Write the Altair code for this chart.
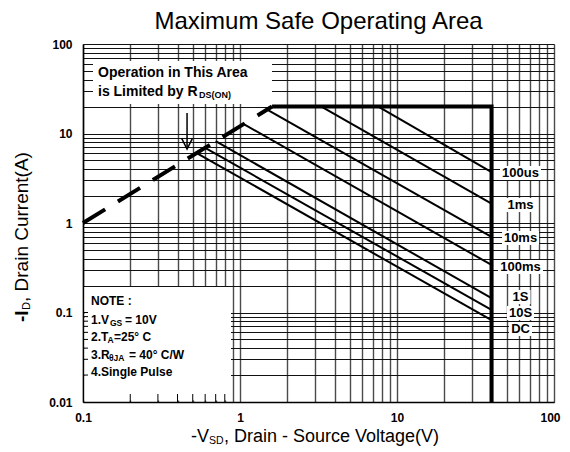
import altair as alt
import pandas as pd

FONT = "Liberation Sans"

# ---------------- data ----------------
v_ticks = [0.1, 0.2, 0.3, 0.4, 0.5, 0.6, 0.7, 0.8, 0.9,
           1, 2, 3, 4, 5, 6, 7, 8, 9,
           10, 20, 30, 40, 50, 60, 70, 80, 90, 100]
i_ticks = [0.01, 0.02, 0.03, 0.04, 0.05, 0.06, 0.07, 0.08, 0.09,
           0.1, 0.2, 0.3, 0.4, 0.5, 0.6, 0.7, 0.8, 0.9,
           1, 2, 3, 4, 5, 6, 7, 8, 9,
           10, 20, 30, 40, 50, 60, 70, 80, 90, 100]
v_labels = ["0.1", "1", "10", "100"]
i_labels = ["0.01", "0.1", "1", "10", "100"]

pulse_names = ["100us", "1ms", "10ms", "100ms", "1S", "10S", "DC"]
pulse_start_v = [7.6, 3.3, 1.48, 1.05, 0.70, 0.60, 0.53]
pulse_start_i = [20, 20, 18.6, 12.8, 8.2, 6.9, 6.05]
pulse_end_v = [40, 40, 40, 40, 40, 40, 40]
pulse_end_i = [3.7, 1.65, 0.70, 0.34, 0.145, 0.107, 0.082]
label_i = [3.62, 1.59, 0.68, 0.322, 0.149, 0.0988, 0.0654]

limit_v = [1.6, 40, 40]
limit_i = [20, 20, 0.01]

rds_v = [0.1, 1.6]
rds_i = [1.0, 20]

arrow_v = [0.46]
arrow_top_i = [16.9]
arrow_tip_i = [6.7]

note_main = ["NOTE :", "1.V", "2.T", "3.R", "4.Single Pulse"]
note_sub = ["", "GS", "A", "\u03b8JA", ""]
note_rest = ["", "= 10V", "=25\u00b0 C", "= 40\u00b0 C/W", ""]
note_i = [0.134, 0.0824, 0.0526, 0.0335, 0.0214]

# ---------------- layout ----------------
W, H = 471, 358
PXD_X = W / 3.0   # pixels per decade (x)
PXD_Y = H / 4.0   # pixels per decade (y)


def shift_v(v, px):
    return v * 10 ** (px / PXD_X)


def shift_i(i, px):  # px measured downward
    return i * 10 ** (-px / PXD_Y)


xs = alt.Scale(type="log", domain=[0.1, 100], nice=False)
ys = alt.Scale(type="log", domain=[0.01, 100], nice=False)


def lab_expr(labels):
    arr = "[" + ",".join(f"'{l}'" for l in labels) + "]"
    return f"indexof({arr}, format(datum.value, '~g')) >= 0 ? format(datum.value, '~g') : ''"


common_axis = dict(title=None, grid=True, ticks=False, domain=True,
                   domainColor="black", domainWidth=1.5,
                   labelFont=FONT, labelFontSize=12, labelFontWeight="bold",
                   labelColor="black", labelOverlap=False, labelFlush=False, zindex=0)
x_axis = alt.Axis(values=v_ticks, labelExpr=lab_expr(v_labels), gridColor="#4a4a4a",
                  gridWidth=1.4, labelPadding=10,
                  labelOffset={"condition": {"test": "datum.value == 100", "value": -4}, "value": 0},
                  **common_axis)
y_axis = alt.Axis(values=i_ticks, labelExpr=lab_expr(i_labels), gridColor="#111111",
                  gridWidth=1.1, labelPadding=11, **common_axis)


def X(f):
    return alt.X(f, type="quantitative", scale=xs, axis=x_axis)


def Y(f):
    return alt.Y(f, type="quantitative", scale=ys, axis=y_axis)


# pulse lines
rows = []
for n, sv, si, ev, ei in zip(pulse_names, pulse_start_v, pulse_start_i, pulse_end_v, pulse_end_i):
    rows.append({"name": n, "v": sv, "i": si, "o": 0})
    rows.append({"name": n, "v": ev, "i": ei, "o": 1})
pulse_df = pd.DataFrame(rows)

limit_df = pd.DataFrame({"v": limit_v, "i": limit_i, "o": list(range(len(limit_v)))})
rds_df = pd.DataFrame({"v": rds_v, "i": rds_i, "o": [0, 1]})

# white boxes
boxes = pd.DataFrame({
    "v1": [shift_v(0.1, 1.5), shift_v(0.1, 10)],
    "v2": [shift_v(0.1, 148), shift_v(0.1, 189)],
    "i1": [shift_i(0.01, -1.5), shift_i(100, 17)],
    "i2": [shift_i(100, 243), shift_i(100, 60)],
})

label_w = [41, 30, 37, 45, 20, 27, 23]
LDX = 29
lab_df = pd.DataFrame({
    "name": pulse_names,
    "v": pulse_end_v,
    "i": label_i,
    "v1": [shift_v(v, LDX - w / 2) for v, w in zip(pulse_end_v, label_w)],
    "v2": [shift_v(v, LDX + w / 2) for v, w in zip(pulse_end_v, label_w)],
    "i1": [shift_i(i, -7) for i in label_i],
    "i2": [shift_i(i, 7) for i in label_i],
})

# inner minor ticks inside the note box
left_ticks = pd.DataFrame({"i": [t for t in i_ticks if t < 0.19 and t > 0.01]})
left_ticks["v1"] = 0.1
left_ticks["v2"] = shift_v(0.1, 5)
bottom_ticks = pd.DataFrame({"v": [t for t in v_ticks if 0.1 < t < 0.85]})
bottom_ticks["i1"] = 0.01
bottom_ticks["i2"] = shift_i(0.01, -8)

arrow_df = pd.DataFrame({"v": arrow_v, "i1": arrow_top_i, "i2": arrow_tip_i})

note_df = pd.DataFrame({"main": note_main, "sub": note_sub, "rest": note_rest,
                        "i": note_i, "v": [shift_v(0.1, 8)] * len(note_main)})
note_sub_dx = [0, 19, 16.5, 18, 0]
note_rest_dx = [0, 34, 23, 38, 0]

box_df = pd.DataFrame({"v": [shift_v(0.1, 15)], "i1": [shift_i(100, 29)], "i2": [shift_i(100, 48)]})

# ---------------- layers ----------------
white_boxes = alt.Chart(boxes).mark_rect(color="white").encode(
    x=X("v1"), x2="v2", y=Y("i1"), y2="i2")

label_boxes = alt.Chart(lab_df).mark_rect(color="white").encode(
    x=X("v1"), x2="v2", y=Y("i1"), y2="i2")

lt = alt.Chart(left_ticks).mark_rule(color="black", strokeWidth=1).encode(
    x=X("v1"), x2="v2", y=Y("i"))
bt = alt.Chart(bottom_ticks).mark_rule(color="black", strokeWidth=1).encode(
    x=X("v"), y=Y("i1"), y2="i2")

pulses = alt.Chart(pulse_df).mark_line(color="black", strokeWidth=2).encode(
    x=X("v"), y=Y("i"), detail="name:N", order="o:Q")

limit = alt.Chart(limit_df).mark_line(color="black", strokeWidth=4, strokeJoin="miter").encode(
    x=X("v"), y=Y("i"), order="o:Q")

rds = alt.Chart(rds_df).mark_line(color="black", strokeWidth=4, strokeDash=[26, 15]).encode(
    x=X("v"), y=Y("i"), order="o:Q")

arrow_shaft = alt.Chart(arrow_df).mark_rule(color="black", strokeWidth=1.5).encode(
    x=X("v"), y=Y("i1"), y2="i2")
arrow_head = alt.Chart(arrow_df).mark_point(
    shape="M -1 -2 L 0 0 L 1 -2", filled=False, size=121, color="black",
    strokeWidth=1.5, opacity=1).encode(x=X("v"), y=Y("i2"))

pulse_text = alt.Chart(lab_df).mark_text(
    align="center", baseline="middle", dx=LDX, font=FONT, fontSize=13,
    fontWeight="bold", color="black").encode(x=X("v"), y=Y("i"), text="name:N")

tb = alt.Chart(box_df)
tb1 = tb.mark_text(text="Operation in This Area", align="left", baseline="middle", font=FONT,
                   fontSize=14, fontWeight="bold", color="black").encode(x=X("v"), y=Y("i1"))
tb2 = tb.mark_text(text="is Limited by R", align="left", baseline="middle", font=FONT,
                   fontSize=14, fontWeight="bold", color="black").encode(x=X("v"), y=Y("i2"))
tb3 = tb.mark_text(text="DS(ON)", align="left", baseline="middle", font=FONT, dx=101, dy=3,
                   fontSize=9, fontWeight="bold", color="black").encode(x=X("v"), y=Y("i2"))

note_layers = []
nb = alt.Chart(note_df)
note_layers.append(nb.mark_text(align="left", baseline="middle", font=FONT, fontSize=12,
                                fontWeight="bold", color="black").encode(
    x=X("v"), y=Y("i"), text="main:N"))
for k in range(len(note_main)):
    if note_sub[k]:
        one = alt.Chart(note_df.iloc[[k]])
        note_layers.append(one.mark_text(align="left", baseline="middle", font=FONT, fontSize=8.5,
                                         fontWeight="bold", color="black", dx=note_sub_dx[k], dy=3).encode(
            x=X("v"), y=Y("i"), text="sub:N"))
        note_layers.append(one.mark_text(align="left", baseline="middle", font=FONT, fontSize=12,
                                         fontWeight="bold", color="black", dx=note_rest_dx[k]).encode(
            x=X("v"), y=Y("i"), text="rest:N"))

# axis titles with subscripts
dummy = alt.Chart(pd.DataFrame({"a": [0]}))
XT_X, XT_Y = 108, 393
xt = [
    dummy.mark_text(text="-V", align="left", baseline="middle", font=FONT, fontSize=18,
                    color="black").encode(x=alt.value(XT_X), y=alt.value(XT_Y)),
    dummy.mark_text(text="SD", align="left", baseline="middle", font=FONT, fontSize=10.5,
                    color="black", dx=18, dy=4).encode(x=alt.value(XT_X), y=alt.value(XT_Y)),
    dummy.mark_text(text=" , Drain - Source Voltage(V)", align="left", baseline="middle", font=FONT,
                    fontSize=18, color="black", dx=33).encode(x=alt.value(XT_X), y=alt.value(XT_Y)),
]
YT_X, YT_Y = -61, 278
yt = [
    dummy.mark_text(text="-I", align="left", baseline="middle", font=FONT, fontSize=19,
                    fontWeight="bold", angle=270, color="black").encode(x=alt.value(YT_X), y=alt.value(YT_Y)),
    dummy.mark_text(text="D", align="left", baseline="middle", font=FONT, fontSize=11, angle=270,
                    color="black", dx=12, dy=5).encode(x=alt.value(YT_X), y=alt.value(YT_Y)),
    dummy.mark_text(text="  , Drain Current(A)", align="left", baseline="middle", font=FONT,
                    fontSize=19, angle=270, color="black", dx=20).encode(x=alt.value(YT_X), y=alt.value(YT_Y)),
]

chart = alt.layer(
    white_boxes, label_boxes, lt, bt, pulses, limit, rds, arrow_shaft, arrow_head,
    pulse_text, tb1, tb2, tb3, *note_layers, *xt, *yt
).properties(
    width=W, height=H,
    title=alt.TitleParams("Maximum Safe Operating Area", font=FONT, fontSize=24,
                          fontWeight="normal", color="black", anchor="middle", offset=4),
    autosize=alt.AutoSizeParams(type="none"),
    padding={"left": 75, "top": 36, "right": 8, "bottom": 50},
).configure_view(stroke="black", strokeWidth=1.5).configure(background="white")

chart.save("out.html", embed_options={"renderer": "svg", "actions": False})
